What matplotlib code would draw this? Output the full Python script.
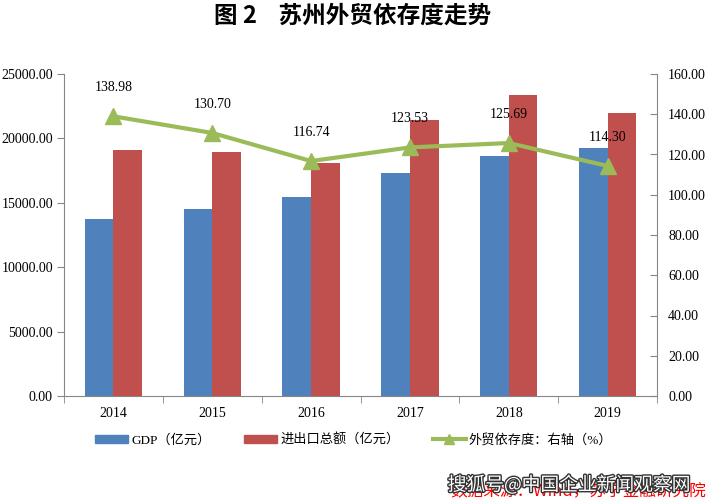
import numpy as np
import matplotlib
matplotlib.use('Agg')
import matplotlib.pyplot as plt
from matplotlib.patches import Patch
from matplotlib.lines import Line2D
import matplotlib.patheffects as pe

plt.rcParams['font.family'] = ['Liberation Serif', 'Noto Sans CJK SC']

# 数据
years = ['2014', '2015', '2016', '2017', '2018', '2019']
gdp = [13761, 14504, 15475, 17320, 18597, 19236]
trade = [19125, 18957, 18066, 21395, 23375, 21987]
ratio = [138.98, 130.70, 116.74, 123.53, 125.69, 114.30]

blue = '#4F81BD'
red = '#C0504D'
green = '#9BBB59'
grey = '#868686'

fig = plt.figure(figsize=(7.06, 5.01), dpi=100)
ax = fig.add_axes([64 / 706, 1 - 396 / 501, (657 - 64) / 706, (396 - 74) / 501])
ax2 = ax.twinx()

x = np.arange(len(years))
w = 0.29
ax.bar(x - w / 2, gdp, w, color=blue, zorder=2)
ax.bar(x + w / 2, trade, w, color=red, zorder=2)

ax.set_xlim(-0.5, len(years) - 0.5)
ax.set_ylim(0, 25000)
ax.set_yticks(np.arange(0, 25001, 5000))
ax.set_yticklabels([f'{v:.2f}' for v in np.arange(0, 25001, 5000)])
ax.set_xticks(x)
ax.set_xticklabels(years)
ax.set_xticks(np.arange(-0.5, len(years)), minor=True)
ax.tick_params(axis='x', which='major', length=0, pad=8, labelsize=10)
ax.tick_params(axis='x', which='minor', length=5, color=grey, direction='out')
ax.tick_params(axis='y', length=5, color=grey, direction='out', labelsize=10, pad=3)

for s in ['top', 'right']:
    ax.spines[s].set_visible(False)
for s in ['left', 'bottom']:
    ax.spines[s].set_color(grey)

ax2.plot(x, ratio, color=green, lw=3, marker='^', markersize=11, zorder=3)
ax2.set_ylim(0, 160)
ax2.set_yticks(np.arange(0, 161, 20))
ax2.set_yticklabels([f'{v:.2f}' for v in np.arange(0, 161, 20)])
ax2.tick_params(axis='y', length=5, color=grey, direction='in', labelsize=10, pad=8)
for s in ['top', 'left', 'bottom']:
    ax2.spines[s].set_visible(False)
ax2.spines['right'].set_color(grey)

for xi, r in zip(x, ratio):
    ax2.annotate(f'{r:.2f}', (xi, r), xytext=(0, 16), textcoords='offset points',
                 ha='center', va='bottom', fontsize=10)

fig.text(0.5, 1 - 16 / 501, '图 2    苏州外贸依存度走势', ha='center', va='center',
         fontsize=17, fontweight='bold', family=['Noto Sans CJK SC'])

handles = [Patch(color=blue), Patch(color=red),
           Line2D([0], [0], color=green, lw=3, marker='^', markersize=7)]
labels = ['GDP（亿元）', '进出口总额（亿元）', '外贸依存度：右轴（%）']
fig.legend(handles, labels, loc='center', bbox_to_anchor=(354 / 706, 1 - 440 / 501),
           ncol=3, frameon=False, handlelength=2.5, handleheight=0.5,
           columnspacing=2.5, handletextpad=0.25,
           prop={'family': ['Liberation Serif', 'Noto Sans CJK SC'], 'size': 9.5})

fig.text(1.0, 1 - 491 / 501, '数据来源：Wind，苏宁金融研究院', ha='right', va='center',
         fontsize=12, color='red', style='italic', family=['Noto Sans CJK SC'])
fig.text(0.978, 1 - 485 / 501, '搜狐号@中国企业新闻观察网', ha='right', va='center',
         fontsize=13.5, color='white', family=['Noto Sans CJK SC'],
         path_effects=[pe.withStroke(linewidth=2, foreground='#333333')])

fig.savefig('out.png', dpi=100)
